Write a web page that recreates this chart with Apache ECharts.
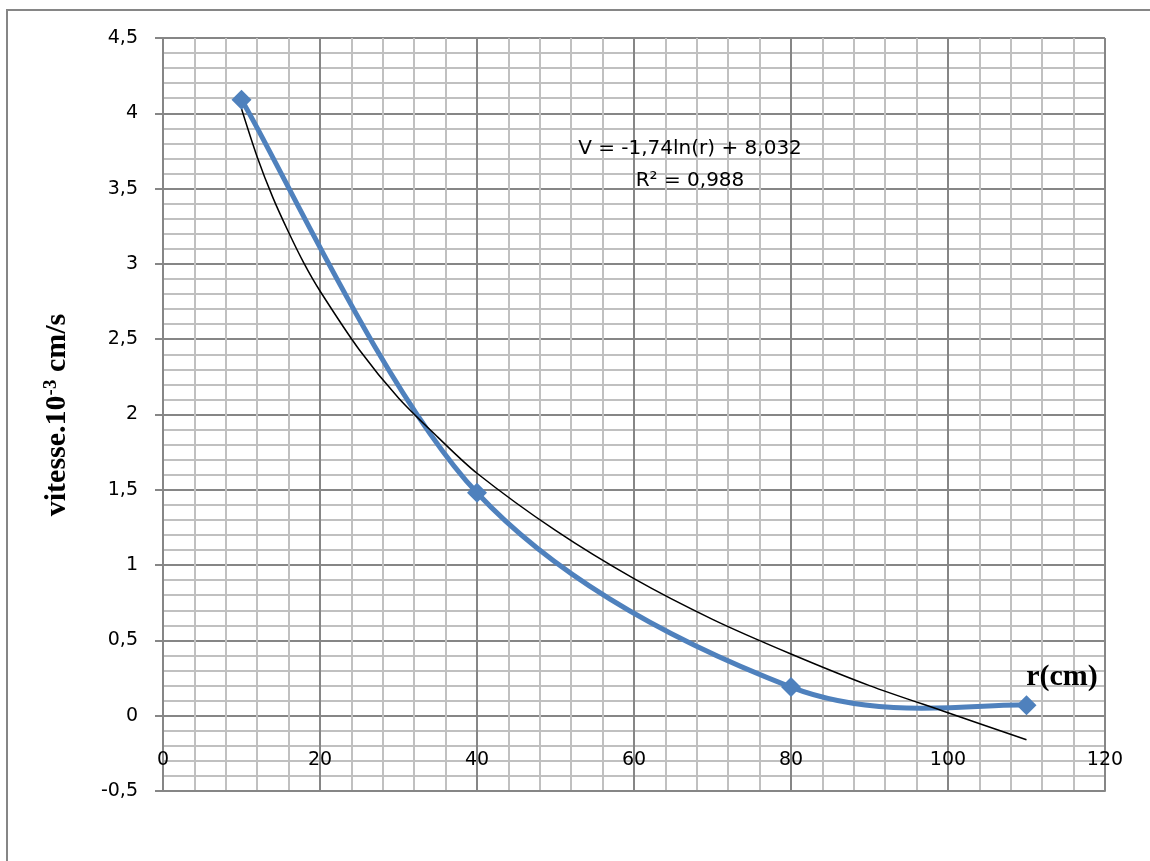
<!DOCTYPE html>
<html>
<head>
<meta charset="utf-8">
<script src="https://cdn.jsdelivr.net/npm/echarts@6/dist/echarts.min.js"></script>
<style>
html,body{margin:0;padding:0;background:#fff;}
#chart{width:1150px;height:861px;}
</style>
</head>
<body>
<div id="chart"></div>
<script>
// Measured data points (r in cm, vitesse in 10^-3 cm/s)
const rValues = [10, 40, 80, 110];
const vValues = [4.09, 1.48, 0.19, 0.07];

// Logarithmic trend line (V = -1,74ln(r) + 8,032)
const trendR = [10, 12, 14, 16, 18, 20, 25, 30, 35, 40, 50, 60, 70, 80, 90, 100, 110];
const trendV = [4.03, 3.71, 3.44, 3.21, 3.00, 2.82, 2.43, 2.11, 1.85, 1.61, 1.23, 0.91, 0.64, 0.41, 0.20, 0.02, -0.16];

// Axis ticks
const xTicks = {min: 0, max: 120, interval: 20};
const yTicks = {min: -0.5, max: 4.5, interval: 0.5};

// Texts
const equationText = 'V = -1,74ln(r) + 8,032';
const r2Text = 'R² = 0,988';
const xName = 'r(cm)';

const MAJOR = '#868686';
const MINOR = '#c0c0c0';
const BLUE = '#4F81BD';

const chart = echarts.init(document.getElementById('chart'));
const dataPts = rValues.map((r, i) => [r, vValues[i]]);
const trendPts = trendR.map((r, i) => [r, trendV[i]]);

// Spreadsheet-style smoothed line: cubic Bezier segments between the data
// points (pixel positions come from the chart's own coordinate system).
function renderSmoothSegment(params, api) {
  const i = params.dataIndex;
  const n = dataPts.length;
  if (i >= n - 1) return null;
  const P = k => api.coord(dataPts[Math.max(0, Math.min(n - 1, k))]);
  const p0 = P(i - 1), p1 = P(i), p2 = P(i + 1), p3 = P(i + 2);
  const t = 1 / 6;
  return {
    type: 'bezierCurve',
    shape: {
      x1: p1[0], y1: p1[1], x2: p2[0], y2: p2[1],
      cpx1: p1[0] + (p2[0] - p0[0]) * t, cpy1: p1[1] + (p2[1] - p0[1]) * t,
      cpx2: p2[0] - (p3[0] - p1[0]) * t, cpy2: p2[1] - (p3[1] - p1[1]) * t
    },
    style: {stroke: BLUE, lineWidth: 5, fill: null, lineCap: 'round'}
  };
}

chart.setOption({
  animation: false,
  backgroundColor: '#fff',
  grid: {left: 163, right: 45, top: 38, bottom: 70, containLabel: false},
  xAxis: {
    type: 'value',
    min: xTicks.min, max: xTicks.max, interval: xTicks.interval,
    axisLine: {show: true, onZero: false, lineStyle: {color: MAJOR, width: 2}},
    axisTick: {show: false},
    axisLabel: {margin: -40, fontSize: 19, fontFamily: 'DejaVu Sans', color: '#000'},
    splitLine: {show: true, lineStyle: {color: MAJOR, width: 2}},
    minorTick: {show: false, splitNumber: 5},
    minorSplitLine: {show: true, lineStyle: {color: MINOR, width: 2}}
  },
  yAxis: {
    type: 'value',
    min: yTicks.min, max: yTicks.max, interval: yTicks.interval,
    axisLine: {show: true, onZero: false, lineStyle: {color: MAJOR, width: 2}},
    axisTick: {show: true, length: 8, lineStyle: {color: MAJOR, width: 2}},
    axisLabel: {margin: 25, fontSize: 19, fontFamily: 'DejaVu Sans', color: '#000',
      formatter: v => String(v).replace('.', ',')},
    splitLine: {show: true, lineStyle: {color: MAJOR, width: 2}},
    minorTick: {show: false, splitNumber: 5},
    minorSplitLine: {show: true, lineStyle: {color: MINOR, width: 2}}
  },
  series: [
    {
      type: 'custom',
      data: dataPts,
      renderItem: renderSmoothSegment,
      encode: {x: 0, y: 1},
      z: 2
    },
    {
      type: 'line',
      data: trendPts,
      smooth: 0.3,
      symbol: 'none',
      lineStyle: {color: '#000', width: 1.5},
      z: 3
    },
    {
      type: 'scatter',
      data: dataPts,
      symbol: 'diamond',
      symbolSize: 20,
      itemStyle: {color: BLUE, opacity: 1},
      z: 4
    }
  ],
  graphic: [
    {type: 'rect', shape: {x: 7, y: 10, width: 1300, height: 1000},
     style: {fill: 'none', stroke: MAJOR, lineWidth: 2}, silent: true, z: 100},
    {type: 'text', x: 690, y: 149, z: 100,
     style: {text: equationText, fontSize: 20, fontFamily: 'DejaVu Sans', fill: '#000',
       align: 'center', verticalAlign: 'middle'}},
    {type: 'text', x: 690, y: 181, z: 100,
     style: {text: r2Text, fontSize: 20, fontFamily: 'DejaVu Sans', fill: '#000',
       align: 'center', verticalAlign: 'middle'}},
    {type: 'text', x: 1062, y: 677, z: 100,
     style: {text: xName, fontSize: 30, fontWeight: 'bold', fontFamily: 'Liberation Serif', fill: '#000',
       align: 'center', verticalAlign: 'middle'}},
    {type: 'text', x: 57, y: 415, rotation: Math.PI / 2, z: 100,
     style: {text: '{b|vitesse.10}{s|-3}{b| cm/s}', align: 'center', verticalAlign: 'middle', fill: '#000',
       rich: {
         b: {fontSize: 30, fontWeight: 'bold', fontFamily: 'Liberation Serif', fill: '#000'},
         s: {fontSize: 19, fontWeight: 'bold', fontFamily: 'Liberation Serif', fill: '#000', verticalAlign: 'top'}
       }}}
  ]
});
</script>
</body>
</html>
